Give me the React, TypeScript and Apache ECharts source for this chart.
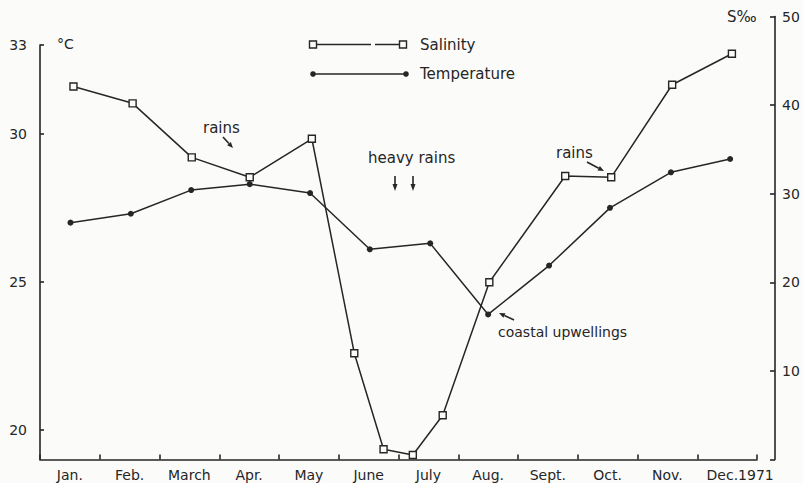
import React, { useEffect, useRef } from "react";
import * as echarts from "echarts";

const months = ["Jan.", "Feb.", "March", "Apr.", "May", "June", "July", "Aug.", "Sept.", "Oct.", "Nov.", "Dec.1971"];
// month position (0 = start of Jan, 12 = end of Dec)
const tempMonths = [0.51, 1.52, 2.53, 3.51, 4.52, 5.52, 6.53, 7.5, 8.52, 9.54, 10.56, 11.55];
const tempValues = [27.0, 27.3, 28.1, 28.3, 28.0, 26.1, 26.3, 23.9, 25.55, 27.5, 28.7, 29.15];
const salMonths = [0.56, 1.55, 2.54, 3.51, 4.55, 5.26, 5.75, 6.24, 6.74, 7.52, 8.79, 9.56, 10.58, 11.58];
const salValues = [42.1, 40.2, 34.1, 31.85, 36.2, 12.0, 1.15, 0.5, 5.0, 20.0, 32.0, 31.85, 42.3, 45.8];
const tempTicks = [20, 25, 30, 33];
const salTickMarks = [0, 10, 20, 30, 40, 50];
const salTickLabels = [10, 20, 30, 40, 50];

const INK = "#262626";
const BG = "#fbfbfa";
const FONT = "DejaVu Sans";

function arrow(x1: number, y1: number, x2: number, y2: number, head = 6, w = 5) {
  const dx = x2 - x1, dy = y2 - y1;
  const L = Math.hypot(dx, dy);
  const ux = dx / L, uy = dy / L;
  const bx = x2 - ux * head, by = y2 - uy * head;
  const px = -uy, py = ux;
  return [
    { type: "line", shape: { x1, y1, x2: bx, y2: by }, style: { stroke: INK, lineWidth: 1.6 } },
    {
      type: "polygon",
      shape: { points: [[x2, y2], [bx + (px * w) / 2, by + (py * w) / 2], [bx - (px * w) / 2, by - (py * w) / 2]] },
      style: { fill: INK },
    },
  ];
}

function label(text: string, x: number, y: number, size = 15) {
  return {
    type: "text",
    x,
    y,
    style: {
      text,
      fill: INK,
      font: `${size}px "${FONT}"`,
      textAlign: "left",
      textVerticalAlign: "middle",
      align: "left",
      verticalAlign: "middle",
    },
  };
}

export default function App() {
  const ref = useRef<HTMLDivElement>(null);
  useEffect(() => {
    const chart = echarts.init(ref.current!, null, { renderer: "svg" });
    const axisLine = { show: true, onZero: false, lineStyle: { color: INK, width: 1.6 } };
    const axisText = { color: INK, fontSize: 14, fontFamily: FONT };
    const tickStyle = { color: INK, width: 1.6 };
    const option: any = {
      animation: false,
      backgroundColor: BG,
      grid: [
        { left: 40, right: 46, top: 45, bottom: 23.5 },
        { left: 40, right: 46, top: 16.5, bottom: 23.5 },
      ],
      xAxis: [
        {
          type: "category",
          gridIndex: 0,
          data: months.map((m, i) =>
            i === months.length - 1 ? { value: m, textStyle: { padding: [0, 0, 0, 26] } } : m
          ),
          boundaryGap: true,
          axisLine,
          axisTick: { show: true, inside: false, length: -5, interval: 0, lineStyle: tickStyle },
          axisLabel: { ...axisText, margin: 8, interval: 0 },
          splitLine: { show: false },
        },
        { type: "value", gridIndex: 0, min: 0, max: 12, show: false, axisLine: { onZero: false } },
        { type: "value", gridIndex: 1, min: 0, max: 12, show: false, axisLine: { onZero: false } },
      ],
      yAxis: [
        {
          type: "value",
          gridIndex: 0,
          min: 19,
          max: 33,
          position: "left",
          axisLine,
          axisTick: { show: true, inside: false, length: -4, customValues: tempTicks, lineStyle: tickStyle },
          axisLabel: { ...axisText, margin: 13, customValues: tempTicks },
          splitLine: { show: false },
        },
        {
          type: "value",
          gridIndex: 1,
          min: 0,
          max: 50,
          position: "right",
          offset: 18,
          axisLine,
          axisTick: { show: true, inside: false, length: -5, customValues: salTickMarks, lineStyle: tickStyle },
          axisLabel: { ...axisText, margin: 7, customValues: salTickLabels },
          splitLine: { show: false },
        },
      ],
      series: [
        {
          type: "line",
          name: "Temperature",
          xAxisIndex: 1,
          yAxisIndex: 0,
          data: tempMonths.map((m, i) => [m, tempValues[i]]),
          symbol: "circle",
          symbolSize: 6,
          itemStyle: { color: INK },
          lineStyle: { color: INK, width: 1.5 },
          z: 2,
        },
        {
          type: "line",
          name: "Salinity",
          xAxisIndex: 2,
          yAxisIndex: 1,
          data: salMonths.map((m, i) => [m, salValues[i]]),
          symbol: "rect",
          symbolSize: 7,
          showAllSymbol: true,
          itemStyle: { color: BG, borderColor: INK, borderWidth: 1.4 },
          lineStyle: { color: INK, width: 1.5 },
          z: 3,
        },
      ],
      graphic: [
        // legend
        { type: "line", shape: { x1: 316, y1: 44.5, x2: 371, y2: 44.5 }, style: { stroke: INK, lineWidth: 1.5 } },
        { type: "line", shape: { x1: 375, y1: 44.5, x2: 400, y2: 44.5 }, style: { stroke: INK, lineWidth: 1.5 } },
        { type: "rect", shape: { x: 309.5, y: 41, width: 7, height: 7 }, style: { fill: BG, stroke: INK, lineWidth: 1.4 } },
        { type: "rect", shape: { x: 399.5, y: 41, width: 7, height: 7 }, style: { fill: BG, stroke: INK, lineWidth: 1.4 } },
        label("Salinity", 420, 45),
        { type: "line", shape: { x1: 313, y1: 74, x2: 406, y2: 74 }, style: { stroke: INK, lineWidth: 1.5 } },
        { type: "circle", shape: { cx: 313, cy: 74, r: 2.8 }, style: { fill: INK } },
        { type: "circle", shape: { cx: 406, cy: 74, r: 2.8 }, style: { fill: INK } },
        label("Temperature", 420, 74),
        // axis units
        label("°C", 57, 44, 14),
        label("S‰", 727, 17, 15),
        // annotations
        label("rains", 203, 128),
        ...arrow(223, 137, 233, 148, 6, 5),
        label("heavy rains", 368, 158),
        ...arrow(395, 176, 395, 191, 7, 5),
        ...arrow(413, 176, 413, 191, 7, 5),
        label("rains", 556, 153),
        ...arrow(587, 162, 604, 171, 6, 5),
        label("coastal upwellings", 498, 332, 14),
        ...arrow(514, 320, 499, 313, 6, 5),
      ],
    };
    chart.setOption(option);
    return () => chart.dispose();
  }, []);
  return <div ref={ref} style={{ position: "fixed", left: 0, top: 0, width: 803, height: 483 }} />;
}
